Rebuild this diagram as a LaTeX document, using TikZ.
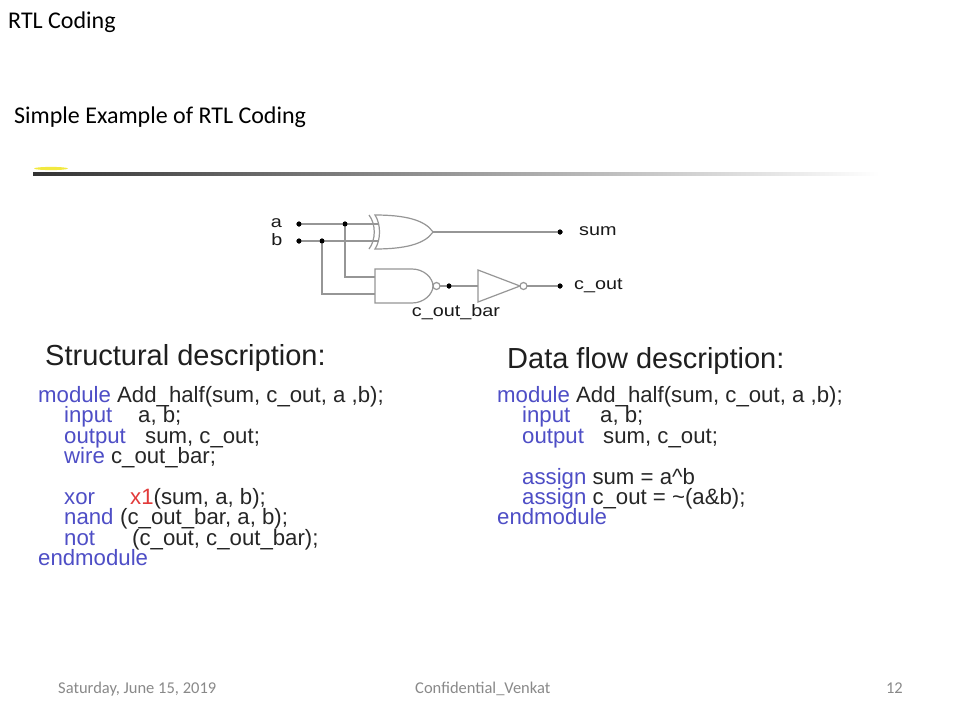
\documentclass[tikz,border=0pt]{standalone}
\usepackage{fontspec}
\usepackage{xcolor}
\usetikzlibrary{calc}
\newfontfamily\calibri{Carlito}
\newfontfamily\arial{Liberation Sans}

\definecolor{kwblue}{RGB}{78,78,198}
\definecolor{xred}{RGB}{226,58,58}
\definecolor{wiregray}{RGB}{150,150,150}
\definecolor{footgray}{RGB}{137,137,137}
\newcommand{\kw}[1]{\textcolor{kwblue}{#1}}
\newcommand{\cktlabel}[1]{\scalebox{1.2}[1]{#1}}

\tikzset{
  wire/.style={draw=wiregray, line width=1.2pt},
  gate/.style={draw=wiregray, line width=1.2pt, fill=white},
  pin/.style={circle, fill=black, inner sep=0pt, minimum size=5pt},
  cktlbl/.style={font=\arial\fontsize{16.5}{18}\selectfont, text=black!90, inner sep=0pt},
  code/.style={font=\arial\fontsize{22.2}{24}\selectfont, text=black!85, anchor=base west, inner sep=0pt},
  heading/.style={font=\arial\fontsize{29}{32}\selectfont, text=black!88, anchor=base west, inner sep=0pt},
  slidetitle/.style={font=\calibri\fontsize{24}{28}\selectfont, anchor=base west, inner sep=0pt},
  footer/.style={font=\calibri\fontsize{16.5}{19}\selectfont, text=footgray, anchor=base west, inner sep=0pt}
}

\begin{document}
\begin{tikzpicture}[x=1pt, y=-1pt]
\useasboundingbox (0,0) rectangle (960,720);
\fill[white] (0,0) rectangle (960,720);

% slide titles
\node[slidetitle] (title) at (8,28) {RTL Coding};
\node[slidetitle] (subtitle) at (14,123) {Simple Example of RTL Coding};

% separator bar
\fill[yellow!85!olive, opacity=.75] (51,168.5) ellipse (17 and 1.6);
\shade[left color=black!80, middle color=black!40, right color=white] (33,172.5) rectangle (880,175.5);

% input and output terminals
\node[pin] (ina) at (299,224) {};
\node[pin] (inb) at (299,241) {};
\node[pin] (ja) at (345,224) {};
\node[pin] (jb) at (322,241) {};
\node[pin] (sum) at (560,232) {};
\node[pin] (cbar) at (449,286) {};
\node[pin] (cout) at (560,286) {};

\node[cktlbl] (la) at (276.5,223.5) {\cktlabel{a}};
\node[cktlbl] (lb) at (277,240) {\cktlabel{b}};
\node[cktlbl, anchor=west] (lsum) at (579,231.5) {\cktlabel{sum}};
\node[cktlbl, anchor=west] (lcout) at (574,285.5) {\cktlabel{c\_out}};
\node[cktlbl] (lcbar) at (456,312) {\cktlabel{c\_out\_bar}};

% xor gate
\draw[wire] (369,215) .. controls (376,224) and (376,240) .. (369,249);
\draw[gate] (375,215) .. controls (405,215) and (425,220) .. (433,232)
  .. controls (425,244) and (405,249) .. (375,249)
  .. controls (381,240) and (381,224) .. (375,215) -- cycle;
\coordinate (xa) at (378.5,224);
\coordinate (xb) at (378.5,241);
\coordinate (xout) at (433,232);

% nand gate
\draw[gate] (375,269) -- (412,269) .. controls (424,269) and (433,278) .. (433,286)
  .. controls (433,294) and (424,303) .. (412,303) -- (375,303) -- cycle;
\draw[gate] (436.5,286) circle (3.5);
\coordinate (na) at (375,277);
\coordinate (nb) at (375,294);

% not gate
\draw[gate] (478,270) -- (520,286) -- (478,302) -- cycle;
\draw[gate] (523.5,286) circle (3.5);
\coordinate (nin) at (478,286);
\coordinate (nout) at (527,286);

% wires
\draw[wire] (ina) -- (ja) -- (xa);
\draw[wire] (inb) -- (jb) -- (xb);
\draw[wire] (ja) |- (na);
\draw[wire] (jb) |- (nb);
\draw[wire] (xout) -- (sum);
\draw[wire] (440,286) -- (cbar) -- (nin);
\draw[wire] (nout) -- (cout);
\foreach \p in {ina,inb,ja,jb,sum,cbar,cout} \node[pin] at (\p) {};

% structural description
\node[heading] (hstruct) at (45,365.5) {Structural description:};
\node[code] (s1) at (38,402.5) {\kw{module} Add\_half(sum, c\_out, a ,b);};
\node[code] (s2) at (64,422.9) {\makebox[74pt][l]{\kw{input}}a, b;};
\node[code] (s3) at (64,443.3) {\makebox[81pt][l]{\kw{output}}sum, c\_out;};
\node[code] (s4) at (64,463.7) {\kw{wire} c\_out\_bar;};
\node[code] (s5) at (64,504.5) {\makebox[66pt][l]{\kw{xor}}\textcolor{xred}{x1}(sum, a, b);};
\node[code] (s6) at (64,524.9) {\makebox[56pt][l]{\kw{nand}}(c\_out\_bar, a, b);};
\node[code] (s7) at (64,545.3) {\makebox[68pt][l]{\kw{not}}(c\_out, c\_out\_bar);};
\node[code] (s8) at (38,565.7) {\kw{endmodule}};

% data flow description
\node[heading] (hflow) at (507,368) {Data flow description:};
\node[code] (d1) at (497,402.5) {\kw{module} Add\_half(sum, c\_out, a ,b);};
\node[code] (d2) at (522,422.9) {\makebox[78pt][l]{\kw{input}}a, b;};
\node[code] (d3) at (522,443.3) {\makebox[81pt][l]{\kw{output}}sum, c\_out;};
\node[code] (d4) at (522,484.1) {\kw{assign} sum = a\textasciicircum b};
\node[code] (d5) at (522,504.5) {\kw{assign} c\_out = \textasciitilde(a\&b);};
\node[code] (d6) at (497,524.9) {\kw{endmodule}};

% footer
\node[footer] (fdate) at (58,693) {Saturday, June 15, 2019};
\node[footer] (fconf) at (415,693) {Confidential\_Venkat};
\node[footer, anchor=base east] (fpage) at (903,693) {12};
\end{tikzpicture}
\end{document}
